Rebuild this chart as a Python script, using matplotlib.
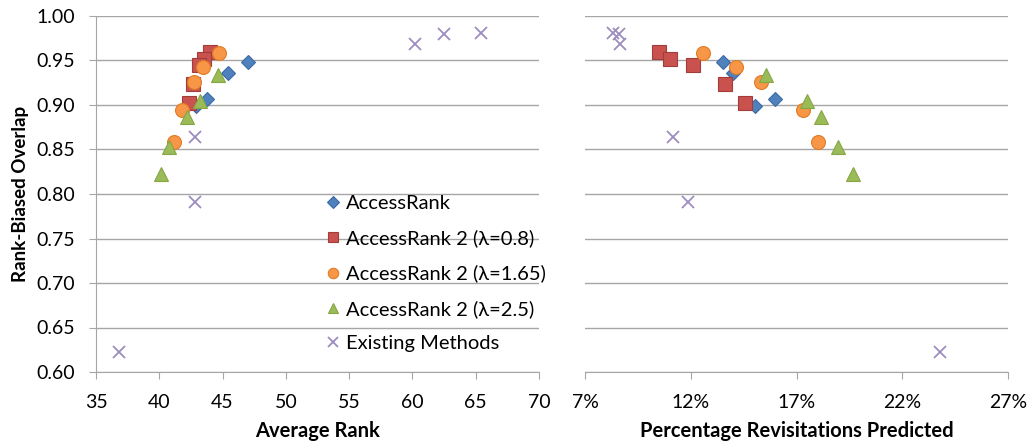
import matplotlib
matplotlib.use("Agg")
import matplotlib.pyplot as plt
from matplotlib.ticker import FuncFormatter, MultipleLocator, FixedLocator

plt.rcParams["font.family"] = ["Lato", "DejaVu Sans"]

# Rank-biased overlap per configuration (shared by both panels)
series_names = [
    "AccessRank",
    "AccessRank 2 (\u03bb=0.8)",
    "AccessRank 2 (\u03bb=1.65)",
    "AccessRank 2 (\u03bb=2.5)",
    "Existing Methods",
]

ar_rbo = [0.948, 0.936, 0.907, 0.899]
ar_avg_rank = [47.0, 45.4, 43.8, 42.9]
ar_pct = [13.54, 13.98, 15.98, 15.04]

ar08_rbo = [0.960, 0.952, 0.945, 0.924, 0.902]
ar08_avg_rank = [43.98, 43.5, 43.1, 42.7, 42.35]
ar08_pct = [10.5, 11.0, 12.09, 13.62, 14.56]

ar165_rbo = [0.958, 0.943, 0.926, 0.894, 0.858]
ar165_avg_rank = [44.7, 43.45, 42.75, 41.8, 41.2]
ar165_pct = [12.6, 14.14, 15.3, 17.29, 18.03]

ar25_rbo = [0.934, 0.904, 0.886, 0.853, 0.822]
ar25_avg_rank = [44.6, 43.2, 42.2, 40.8, 40.1]
ar25_pct = [15.56, 17.51, 18.16, 18.98, 19.69]

existing_rbo = [0.981, 0.980, 0.969, 0.864, 0.791, 0.622]
existing_avg_rank = [65.4, 62.5, 60.2, 42.8, 42.85, 36.8]
existing_pct = [8.34, 8.62, 8.65, 11.17, 11.88, 23.8]

avg_rank_ticks = [35, 40, 45, 50, 55, 60, 65, 70]
pct_ticks = [7, 12, 17, 22, 27]

rbo_values = [ar_rbo, ar08_rbo, ar165_rbo, ar25_rbo, existing_rbo]
avg_rank_values = [ar_avg_rank, ar08_avg_rank, ar165_avg_rank, ar25_avg_rank, existing_avg_rank]
pct_values = [ar_pct, ar08_pct, ar165_pct, ar25_pct, existing_pct]

styles = [
    dict(marker="D", markersize=7.5, markerfacecolor="#4f81bd", markeredgecolor="#3a6aa6", markeredgewidth=0.8),
    dict(marker="s", markersize=9.5, markerfacecolor="#c9524f", markeredgecolor="#a33d3a", markeredgewidth=0.8),
    dict(marker="o", markersize=10, markerfacecolor="#f79646", markeredgecolor="#e07b25", markeredgewidth=0.8),
    dict(marker="^", markersize=10.5, markerfacecolor="#9bbb59", markeredgecolor="#86a646", markeredgewidth=0.8),
    dict(marker="x", markersize=9, markeredgecolor="#9d8cbf", markeredgewidth=1.3),
]

grid_color = "#a6a6a6"
W, H = 1030, 446
fig = plt.figure(figsize=(W / 100, H / 100), dpi=100)
ax1 = fig.add_axes([96 / W, 1 - 372 / H, (539 - 96) / W, (372 - 16) / H])
ax2 = fig.add_axes([585 / W, 1 - 372 / H, (1008 - 585) / W, (372 - 16) / H])


def style_axes(ax, show_left):
    ax.set_ylim(0.60, 1.00)
    ax.yaxis.set_major_locator(MultipleLocator(0.05))
    ax.grid(axis="y", color=grid_color, linewidth=1.0)
    ax.set_axisbelow(True)
    for side in ("top", "right"):
        ax.spines[side].set_visible(False)
    ax.spines["bottom"].set_color(grid_color)
    ax.spines["left"].set_color(grid_color)
    ax.spines["left"].set_visible(show_left)
    ax.tick_params(axis="x", direction="out", length=5, color=grid_color, labelsize=14, pad=11)
    if show_left:
        ax.tick_params(axis="y", direction="out", length=5, color=grid_color, labelsize=14, pad=10)
        ax.yaxis.set_major_formatter(FuncFormatter(lambda v, p: f"{v:.2f}"))
    else:
        ax.tick_params(axis="y", length=0, labelleft=False)


style_axes(ax1, True)
style_axes(ax2, False)

for name, xs, ys, st in zip(series_names, avg_rank_values, rbo_values, styles):
    ax1.plot(xs, ys, linestyle="none", label=name, **st)
for xs, ys, st in zip(pct_values, rbo_values, styles):
    ax2.plot(xs, ys, linestyle="none", **st)

ax1.set_xlim(avg_rank_ticks[0], avg_rank_ticks[-1])
ax1.xaxis.set_major_locator(FixedLocator(avg_rank_ticks))
ax2.set_xlim(pct_ticks[0], pct_ticks[-1])
ax2.xaxis.set_major_locator(FixedLocator(pct_ticks))
ax2.xaxis.set_major_formatter(FuncFormatter(lambda v, p: f"{v:.0f}%"))

ax1.set_xlabel("Average Rank", fontsize=14.5, fontweight="bold", labelpad=7)
ax2.set_xlabel("Percentage Revisitations Predicted", fontsize=14.5, fontweight="bold", labelpad=7)
ax1.set_ylabel("Rank-Biased Overlap", fontsize=13.5, fontweight="bold", labelpad=5)

ax1.legend(loc="upper left", bbox_to_anchor=(0.508, 0.497), frameon=False, fontsize=14.5,
           handletextpad=0.05, labelspacing=0.86, markerscale=0.75, handlelength=1.2,
           borderaxespad=0, borderpad=0)

fig.savefig("out.png", dpi=100)
